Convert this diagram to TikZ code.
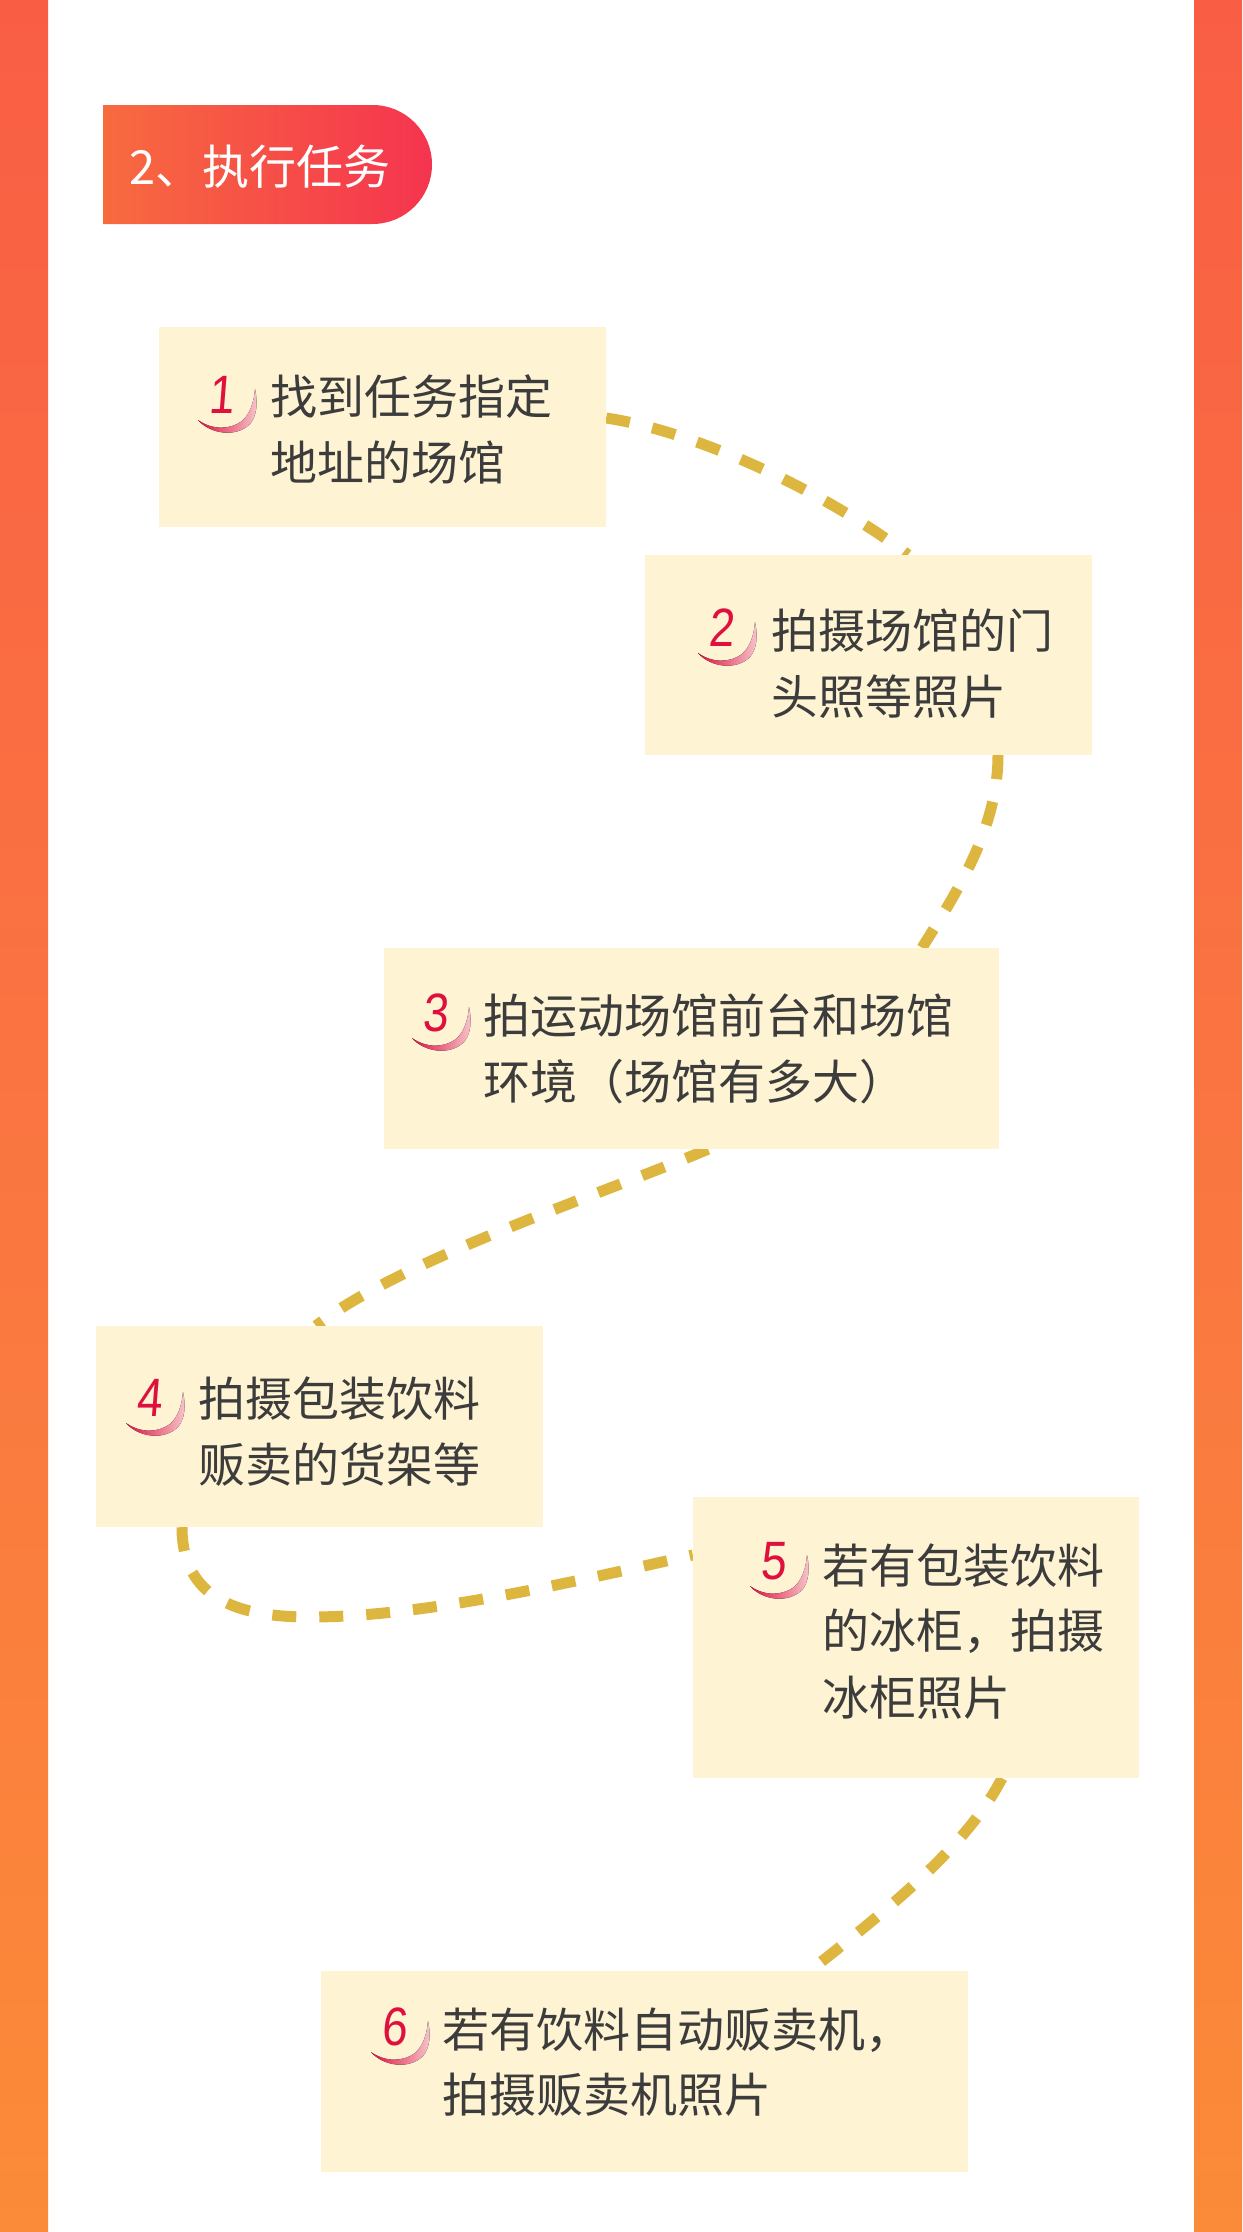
\documentclass[tikz,border=0pt]{standalone}
\usepackage{fontspec}
\newfontfamily\cjk{Noto Sans CJK SC}
\newfontfamily\numfont[FakeSlant=0.08,FakeStretch=0.85]{Liberation Sans}
\usetikzlibrary{shapes.misc,calc,backgrounds}
\definecolor{barTop}{HTML}{F95E44}
\definecolor{barMid}{HTML}{FA7541}
\definecolor{barBot}{HTML}{FB8B38}
\definecolor{boxfill}{HTML}{FEF3D3}
\definecolor{dashc}{HTML}{DDB640}
\definecolor{txtgray}{HTML}{3C3C3C}
\definecolor{numred}{HTML}{E0103E}
\definecolor{numpink}{HTML}{F7C6CD}
\definecolor{ttlL}{HTML}{F76B3F}
\definecolor{ttlM}{HTML}{F64F47}
\definecolor{ttlR}{HTML}{F5344F}
\begin{document}
\begin{tikzpicture}[x=1pt,y=-1pt,
  stepbox/.style={rectangle, fill=boxfill, draw=none, inner sep=0pt},
  sidebar/.style={top color=barTop, bottom color=barBot, middle color=barMid},
  txt/.style={anchor=base west, inner sep=0pt, text=txtgray, font=\cjk\fontsize{47}{66}\selectfont},
  numtext/.style={anchor=base, inner sep=0pt, text=numred, font=\numfont\fontsize{54}{60}\selectfont},
  conn/.style={draw=dashc, line width=11pt, dash pattern=on 24pt off 23pt},
  badge/.pic={
    \fill[left color=numred, right color=numpink]
      (-24,26) .. controls (-12,40) and (14,44) .. (28,30)
      .. controls (35,22) and (36,8) .. (33,-5)
      .. controls (32,8) and (28,20) .. (20,27)
      .. controls (8,36) and (-10,36) .. (-24,26) -- cycle;
    \node[numtext] (-d) at (-1,19) {#1};
  }]
\useasboundingbox (0,0) rectangle (1242,2232);

% side bars
\fill[sidebar] (0,0) rectangle (48,2232);
\fill[sidebar] (1194,0) rectangle (1242,2232);

% title
\node[rounded rectangle, rounded rectangle west arc=none, inner sep=0pt,
      minimum width=329pt, minimum height=119pt,
      left color=ttlL, middle color=ttlM, right color=ttlR] (title) at (267.5,164.5) {};
\node[anchor=base west, inner sep=0pt, text=white, font=\cjk\fontsize{47}{56}\selectfont] (ttxt) at (129,184) {2、执行任务};

% boxes
\node[stepbox, minimum width=447pt, minimum height=200pt] (b1) at (382.5,427) {};
\node[stepbox, minimum width=447pt, minimum height=200pt] (b2) at (868.5,655) {};
\node[stepbox, minimum width=615pt, minimum height=201pt] (b3) at (691.5,1048.5) {};
\node[stepbox, minimum width=447pt, minimum height=201pt] (b4) at (319.5,1426.5) {};
\node[stepbox, minimum width=446pt, minimum height=281pt] (b5) at (916,1637.5) {};
\node[stepbox, minimum width=647pt, minimum height=201pt] (b6) at (644.5,2071.5) {};

% connectors behind the boxes
\begin{scope}[on background layer]
\fill[white] (48,0) rectangle (1194,2232);
\coordinate (m45) at (310,1617);
\draw[conn] ($(b1.east)+(0,-9)$) .. controls (700,432) and (830,495) .. ($(b2.north)+(39.5,0)$);
\draw[conn] ($(b2.south)+(129.5,0)$) .. controls (998,830) and (955,895) .. ($(b3.north)+(230.5,0)$);
\draw[conn] ($(b3.south)+(16.5,0)$) .. controls (600,1195) and (400,1260) .. ($(b4.north)+(-3.5,0)$);
\draw[conn] ($(b4.south)+(-137.5,0)$) .. controls (182,1600) and (240,1617) .. (m45)
  .. controls (420,1617) and (560,1585) .. ($(b5.west)+(0,-82.5)$);
\draw[conn] ($(b5.south)+(86,0)$) .. controls (965,1850) and (880,1915) .. ($(b6.north)+(165.5,0)$);
\end{scope}

% badges
\pic (n1) at (222,394) {badge=1};
\pic (n2) at (722,627) {badge=2};
\pic (n3) at (436,1012) {badge=3};
\pic (n4) at (150,1397) {badge=4};
\pic (n5) at (774,1560) {badge=5};
\pic (n6) at (395,2026) {badge=6};

% texts
\node[txt] (t1a) at (270,414) {找到任务指定};
\node[txt] (t1b) at (270,480) {地址的场馆};
\node[txt] (t2a) at (771,648) {拍摄场馆的门};
\node[txt] (t2b) at (771,714) {头照等照片};
\node[txt] (t3a) at (483,1033) {拍运动场馆前台和场馆};
\node[txt] (t3b) at (483,1099) {环境（场馆有多大）};
\node[txt] (t4a) at (198,1416) {拍摄包装饮料};
\node[txt] (t4b) at (198,1482) {贩卖的货架等};
\node[txt] (t5a) at (822,1583) {若有包装饮料};
\node[txt] (t5b) at (822,1648) {的冰柜，拍摄};
\node[txt] (t5c) at (822,1715) {冰柜照片};
\node[txt] (t6a) at (442,2047) {若有饮料自动贩卖机，};
\node[txt] (t6b) at (442,2112) {拍摄贩卖机照片};
\end{tikzpicture}
\end{document}
